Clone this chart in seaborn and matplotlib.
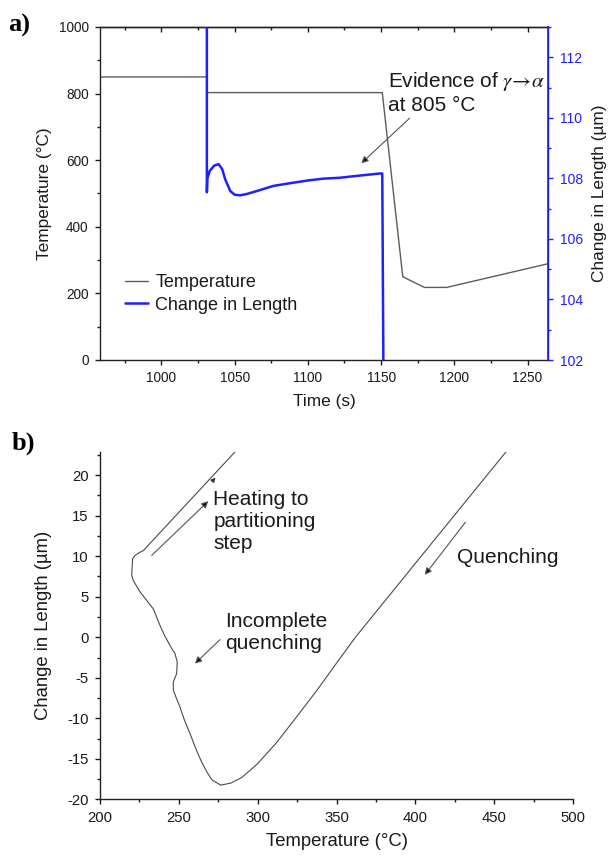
import matplotlib
matplotlib.use("Agg")
import matplotlib.pyplot as plt
import seaborn as sns
from matplotlib.ticker import MultipleLocator

# ---------------- data ----------------
# panel a) temperature vs time
time_temp = [958, 1031.0, 1031.0, 1150.8, 1164.8, 1179.6, 1194.8, 1264]
temp_vals = [850, 850, 803, 803, 250, 218, 218, 289]

# panel a) change in length vs time
time_len = [1031.0, 1031.0, 1031.3, 1033, 1036, 1039, 1041.5, 1043.5, 1047,
            1050, 1053.7, 1058, 1065, 1076.4, 1087.8, 1100, 1110.4, 1121.8,
            1133, 1141, 1149, 1150.8, 1151.6]
len_vals = [114.0, 107.54, 108.0, 108.25, 108.42, 108.47, 108.3, 107.97, 107.58,
            107.46, 107.44, 107.48, 107.58, 107.75, 107.84, 107.93, 107.99, 108.02,
            108.08, 108.12, 108.16, 108.16, 101.5]

# panel b) dilatometry curve (change in length vs temperature)
dil_temp = [458, 413.3, 362, 350, 337, 324, 312, 300, 290, 283, 276.5,
            271, 267.7, 264, 261.3, 257.1, 253.5, 250.7, 248, 246.5, 246.5,
            248.6, 249.0, 247.5, 245.5, 244.4, 241, 238.0, 233.8, 229, 225.4,
            221.1, 220.1, 220.4, 220.7, 222.2, 225.4, 227.5, 286.7]
dil_len = [23.0, 12.3, 0.0, -3.2, -6.7, -10.0, -13.0, -15.6, -17.3, -18.0, -18.25,
           -17.6, -16.6, -15.2, -14.0, -11.9, -10.2, -8.6, -7.3, -6.5, -5.5,
           -4.5, -3.05, -2.0, -1.4, -1.0, 0.2, 1.48, 3.5, 4.7, 5.6,
           7.0, 7.65, 8.7, 9.7, 10.1, 10.5, 10.7, 23.1]

series_labels = ["Temperature", "Change in Length"]
annot_a = "Evidence of $\\gamma\\!\\rightarrow\\!\\alpha$\nat 805 °C"
annot_b = ["Heating to\npartitioning\nstep", "Incomplete\nquenching", "Quenching"]

# ---------------- style ----------------
sns.set_theme(style="ticks")
plt.rcParams["font.family"] = ["Liberation Sans", "DejaVu Sans"]
plt.rcParams["mathtext.fontset"] = "stix"
plt.rcParams["axes.unicode_minus"] = False
plt.rcParams["axes.linewidth"] = 1.0
plt.rcParams["axes.edgecolor"] = "#222222"

W, H = 608, 857
fig = plt.figure(figsize=(W / 100, H / 100), dpi=100)

TCOL = "#5c5c5c"
BLUE = "#1f1fff"
TXT = "#1a1a1a"

# ---------------- panel a ----------------
ax1 = fig.add_axes([100 / W, 1 - 360 / H, 448 / W, 333 / H])
ax2 = ax1.twinx()

sns.lineplot(x=time_temp, y=temp_vals, ax=ax1, color=TCOL, lw=1.0,
             sort=False, estimator=None, label=series_labels[0], legend=False)
sns.lineplot(x=time_len, y=len_vals, ax=ax2, color=BLUE, lw=1.8,
             sort=False, estimator=None, label=series_labels[1], legend=False)

ax1.set_xlim(958, 1264)
ax1.set_ylim(0, 1000)
ax2.set_ylim(102, 113)

ax1.xaxis.set_major_locator(MultipleLocator(50))
ax1.xaxis.set_minor_locator(MultipleLocator(25))
ax1.yaxis.set_major_locator(MultipleLocator(200))
ax1.yaxis.set_minor_locator(MultipleLocator(100))
ax2.yaxis.set_major_locator(MultipleLocator(2))
ax2.yaxis.set_minor_locator(MultipleLocator(1))

ax1.tick_params(axis="both", which="major", direction="out", length=3.6, width=1,
                labelsize=9.8, pad=4.5, colors=TXT)
ax1.tick_params(axis="both", which="minor", direction="out", length=2.2, width=1,
                colors=TXT)
ax1.tick_params(axis="x", top=False, which="both")
ax2.tick_params(axis="y", which="major", direction="out", length=3.6, width=1,
                labelsize=10, pad=5, colors=BLUE)
ax2.tick_params(axis="y", which="minor", direction="out", length=2.2, width=1,
                colors=BLUE)
ax2.spines["right"].set_color(BLUE)
ax2.spines["right"].set_linewidth(1.2)
ax2.spines["left"].set_visible(False)
ax2.spines["top"].set_visible(False)
ax2.spines["bottom"].set_visible(False)

sec = ax1.secondary_xaxis("top")
sec.xaxis.set_major_locator(MultipleLocator(50))
sec.xaxis.set_minor_locator(MultipleLocator(25))
sec.tick_params(axis="x", which="major", direction="in", length=3.6, width=1,
                labeltop=False, colors=TXT)
sec.tick_params(axis="x", which="minor", direction="in", length=2.2, width=1,
                colors=TXT)

ax1.set_xlabel("Time (s)", fontsize=12.4, color=TXT, labelpad=6)
ax1.set_ylabel("Temperature (°C)", fontsize=12.4, color=TXT, labelpad=5)
ax2.set_ylabel("Change in Length (µm)", fontsize=12.4, color=TXT, labelpad=6)

h1, l1 = ax1.get_legend_handles_labels()
h2, l2 = ax2.get_legend_handles_labels()
leg = ax2.legend(h1 + h2, l1 + l2, loc="center left", bbox_to_anchor=(0.055, 0.198),
                 frameon=False, fontsize=13, handlelength=1.3, handletextpad=0.4,
                 labelspacing=0.3, borderpad=0, borderaxespad=0)
for t in leg.get_texts():
    t.set_color(TXT)

ax1.annotate("", xy=(1136.5, 590.7), xytext=(1169.4, 725.8),
             arrowprops=dict(arrowstyle="-|>", color="#555555", lw=0.8,
                             mutation_scale=10, shrinkA=0, shrinkB=0,
                             fc="#111111", ec="#555555"))
ax1.text(1154.6, 804.8, annot_a, ha="left", va="center", fontsize=15, color=TXT)

fig.text(8 / W, 1 - 25 / H, "a)", ha="left", va="center", fontsize=19,
         fontweight="bold", family=["Liberation Serif", "DejaVu Serif"], color="black")

# ---------------- panel b ----------------
ax3 = fig.add_axes([100 / W, 1 - 799.3 / H, 473 / W, 347.6 / H])
sns.lineplot(x=dil_temp, y=dil_len, ax=ax3, color="#4a4a4a", lw=0.8,
             sort=False, estimator=None)
ax3.set_xlim(200, 500)
ax3.set_ylim(-20, 22.9)
sns.despine(ax=ax3)
ax3.xaxis.set_major_locator(MultipleLocator(50))
ax3.xaxis.set_minor_locator(MultipleLocator(25))
ax3.yaxis.set_major_locator(MultipleLocator(5))
ax3.yaxis.set_minor_locator(MultipleLocator(2.5))
ax3.tick_params(axis="both", which="major", direction="out", length=3.6, width=1,
                labelsize=10.7, pad=4.5, colors=TXT)
ax3.tick_params(axis="both", which="minor", direction="out", length=2.2, width=1,
                colors=TXT)
ax3.set_xlabel("Temperature (°C)", fontsize=13.3, color=TXT, labelpad=6)
ax3.set_ylabel("Change in Length (µm)", fontsize=13.3, color=TXT, labelpad=11)

arrow_kw = dict(arrowstyle="-|>", color="#555555", lw=0.8, mutation_scale=10,
                shrinkA=0, shrinkB=0, fc="#111111", ec="#555555")
ax3.annotate("", xy=(268.7, 16.8), xytext=(232.8, 10.1), arrowprops=arrow_kw)
ax3.annotate("", xy=(406.0, 7.7), xytext=(431.8, 14.2), arrowprops=arrow_kw)
ax3.annotate("", xy=(260.2, -3.25), xytext=(276.1, -0.3), arrowprops=arrow_kw)
ax3.annotate("", xy=(273.2, 19.7), xytext=(271.0, 19.2),
             arrowprops=dict(arrowstyle="-|>", color="#333333", lw=0.6,
                             mutation_scale=7, shrinkA=0, shrinkB=0))

ax3.text(271.8, 14.3, annot_b[0], ha="left", va="center", fontsize=15, color=TXT)
ax3.text(279.3, 0.55, annot_b[1], ha="left", va="center", fontsize=15, color=TXT)
ax3.text(426.2, 9.9, annot_b[2], ha="left", va="center", fontsize=15, color=TXT)

fig.text(11.7 / W, 1 - 443 / H, "b)", ha="left", va="center", fontsize=19,
         fontweight="bold", family=["Liberation Serif", "DejaVu Serif"], color="black")

fig.savefig("out.png", dpi=100)
